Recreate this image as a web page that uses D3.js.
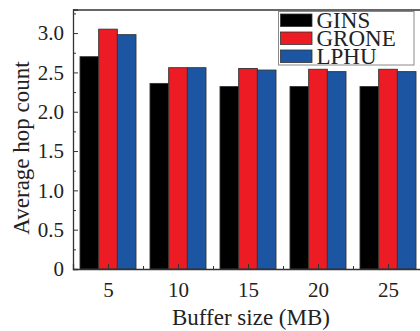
<!DOCTYPE html>
<html>
<head>
<meta charset="utf-8">
<script src="https://cdn.jsdelivr.net/npm/d3@7"></script>
<style>
  body { margin: 0; background: #fff; }
  text { font-family: "Liberation Serif", "Times New Roman", serif; fill: #222; }
</style>
</head>
<body>
<svg id="svg" width="420" height="331"></svg>
<script>
// data
const categories = [5, 10, 15, 20, 25];
const gins = [2.70, 2.36, 2.32, 2.32, 2.32];
const grone = [3.05, 2.56, 2.55, 2.54, 2.54];
const lphu = [2.98, 2.56, 2.53, 2.51, 2.51];
const seriesNames = ["GINS", "GRONE", "LPHU"];
const yTicks = [0, 0.5, 1.0, 1.5, 2.0, 2.5, 3.0];

const COLORS = ["#000000", "#ed1c24", "#1c55a2"];
const AXIS = "#333333";

const svg = d3.select("#svg");

//Plot area
const LEFT = 73, RIGHT = 423, TOP = 10, BOTTOM = 269;

const x = d3.scaleLinear().domain([2.5, 27.5]).range([LEFT, RIGHT]);
const y = d3.scaleLinear().domain([0, 3.3]).range([BOTTOM, TOP - 0.5]);

const series = [gins, grone, lphu];
const groupW = 4;               // data units covered by one group
const barW = groupW / series.length;

//Bars
series.forEach((vals, si) => {
  svg.append("g")
    .selectAll("rect")
    .data(vals)
    .enter().append("rect")
    .attr("x", (v, i) => x(categories[i] - groupW / 2 + si * barW))
    .attr("width", x(barW) - x(0))
    .attr("y", v => y(v))
    .attr("height", v => y(0) - y(v))
    .attr("fill", COLORS[si])
    .attr("stroke", "#333")
    .attr("stroke-width", 0.9);
});

//Frame (top and bottom lines)
svg.append("line")
  .attr("x1", LEFT).attr("x2", 420).attr("y1", TOP).attr("y2", TOP)
  .attr("stroke", AXIS).attr("stroke-width", 1.3);

//Y axis with inward ticks
const yMinor = d3.range(0.25, 3.3, 0.5);
svg.append("g")
  .attr("transform", `translate(${LEFT},0)`)
  .call(d3.axisLeft(y).tickValues(yMinor).tickSize(-3).tickFormat(""))
  .call(g => g.select(".domain").remove())
  .call(g => g.selectAll("line").attr("stroke", AXIS));

svg.append("g")
  .attr("transform", `translate(${LEFT},0)`)
  .call(d3.axisLeft(y).tickValues(yTicks).tickSize(-5).tickPadding(9)
    .tickFormat(d => d === 0 ? "0" : d3.format(".1f")(d)))
  .call(g => g.select(".domain").attr("stroke", AXIS).attr("stroke-width", 1.3))
  .call(g => g.selectAll("line").attr("stroke", AXIS))
  .call(g => g.selectAll("text")
    .attr("font-size", 21).attr("fill", "#222")
    .style("font-family", "'Liberation Serif', serif"));

//X axis
svg.append("g")
  .attr("transform", `translate(0,${BOTTOM})`)
  .call(d3.axisBottom(x).tickValues(categories.map(c => c + 2.5)).tickSize(-3).tickFormat(""))
  .call(g => g.select(".domain").remove())
  .call(g => g.selectAll("line").attr("stroke", AXIS));

svg.append("g")
  .attr("transform", `translate(0,${BOTTOM})`)
  .call(d3.axisBottom(x).tickValues(categories).tickSize(-5).tickPadding(13))
  .call(g => g.select(".domain").attr("stroke", AXIS).attr("stroke-width", 1.3))
  .call(g => g.selectAll("line").attr("stroke", AXIS))
  .call(g => g.selectAll("text")
    .attr("font-size", 21).attr("fill", "#222")
    .style("font-family", "'Liberation Serif', serif"));

//Axis titles
svg.append("text")
  .attr("x", 251).attr("y", 325)
  .attr("text-anchor", "middle")
  .attr("font-size", 23)
  .text("Buffer size (MB)");

svg.append("text")
  .attr("transform", "translate(29,148) rotate(-90)")
  .attr("text-anchor", "middle")
  .attr("font-size", 23)
  .text("Average hop count");

//Legend
const legend = svg.append("g");
legend.append("rect")
  .attr("x", 278.5).attr("y", 11.5).attr("width", 135.5).attr("height", 53.5)
  .attr("fill", "#fff").attr("stroke", "#888").attr("stroke-width", 1);

seriesNames.forEach((name, i) => {
  legend.append("rect")
    .attr("x", 280.5).attr("y", 14 + i * 18).attr("width", 31.5).attr("height", 12.5)
    .attr("fill", COLORS[i]).attr("stroke", "#333").attr("stroke-width", 0.8);
  legend.append("text")
    .attr("x", 316.5).attr("y", 28 + i * 18)
    .attr("font-size", 23)
    .text(name);
});
</script>
</body>
</html>
